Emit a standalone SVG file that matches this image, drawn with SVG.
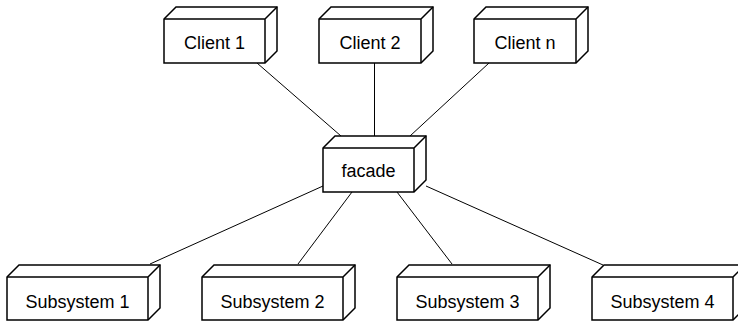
<svg xmlns="http://www.w3.org/2000/svg" width="738" height="321" viewBox="0 0 738 321">
  <style>
    .bg { fill: #ffffff; }
    .edge { stroke: #000000; stroke-width: 1; fill: none; }
    .box { fill: #ffffff; stroke: #000000; stroke-width: 1.5; stroke-linejoin: miter; }
    .fold { fill: none; stroke: #000000; stroke-width: 1.5; }
    .label { font-family: "Liberation Sans", Arial, sans-serif; font-size: 18px; fill: #000000; text-anchor: middle; }
  </style>
  <rect class="bg" x="0" y="0" width="738" height="321"/>

  <!-- connectors between the facade and its clients / subsystems -->
  <g id="connectors">
    <line class="edge" x1="257" y1="63" x2="341" y2="136"/>
    <line class="edge" x1="374.5" y1="63" x2="374.5" y2="136"/>
    <line class="edge" x1="489" y1="63" x2="410" y2="136"/>
    <line class="edge" x1="323" y1="186" x2="150" y2="264"/>
    <line class="edge" x1="352" y1="192" x2="298" y2="264"/>
    <line class="edge" x1="397" y1="192" x2="452" y2="264"/>
    <line class="edge" x1="426" y1="186" x2="603" y2="265"/>
  </g>

  <!-- 3D node boxes: outline hexagon plus front-face edges -->
  <g id="client1">
    <path class="box" d="M164,19 L176,7 L277,7 L277,51 L265,63 L164,63 Z"/>
    <path class="fold" d="M164,19 L265,19 L265,63 M265,19 L277,7"/>
    <text class="label" x="214.5" y="48.5">Client 1</text>
  </g>
  <g id="client2">
    <path class="box" d="M319,19 L331,7 L433,7 L433,51 L421,63 L319,63 Z"/>
    <path class="fold" d="M319,19 L421,19 L421,63 M421,19 L433,7"/>
    <text class="label" x="370" y="48.5">Client 2</text>
  </g>
  <g id="clientn">
    <path class="box" d="M474,19 L486,7 L588,7 L588,51 L576,63 L474,63 Z"/>
    <path class="fold" d="M474,19 L576,19 L576,63 M576,19 L588,7"/>
    <text class="label" x="525" y="48.5">Client n</text>
  </g>
  <g id="facade">
    <path class="box" d="M323,148 L335,136 L426,136 L426,180 L414,192 L323,192 Z"/>
    <path class="fold" d="M323,148 L414,148 L414,192 M414,148 L426,136"/>
    <text class="label" x="368.5" y="176.5">facade</text>
  </g>
  <g id="subsystem1">
    <path class="box" d="M7,277 L19,265 L160,265 L160,308 L148,320 L7,320 Z"/>
    <path class="fold" d="M7,277 L148,277 L148,320 M148,277 L160,265"/>
    <text class="label" x="77.5" y="307.5">Subsystem 1</text>
  </g>
  <g id="subsystem2">
    <path class="box" d="M202,277 L214,265 L355,265 L355,308 L343,320 L202,320 Z"/>
    <path class="fold" d="M202,277 L343,277 L343,320 M343,277 L355,265"/>
    <text class="label" x="272.5" y="307.5">Subsystem 2</text>
  </g>
  <g id="subsystem3">
    <path class="box" d="M397,277 L409,265 L550,265 L550,308 L538,320 L397,320 Z"/>
    <path class="fold" d="M397,277 L538,277 L538,320 M538,277 L550,265"/>
    <text class="label" x="467.5" y="307.5">Subsystem 3</text>
  </g>
  <g id="subsystem4">
    <path class="box" d="M592,277 L604,265 L745,265 L745,308 L733,320 L592,320 Z"/>
    <path class="fold" d="M592,277 L733,277 L733,320 M733,277 L745,265"/>
    <text class="label" x="662.5" y="307.5">Subsystem 4</text>
  </g>
</svg>
